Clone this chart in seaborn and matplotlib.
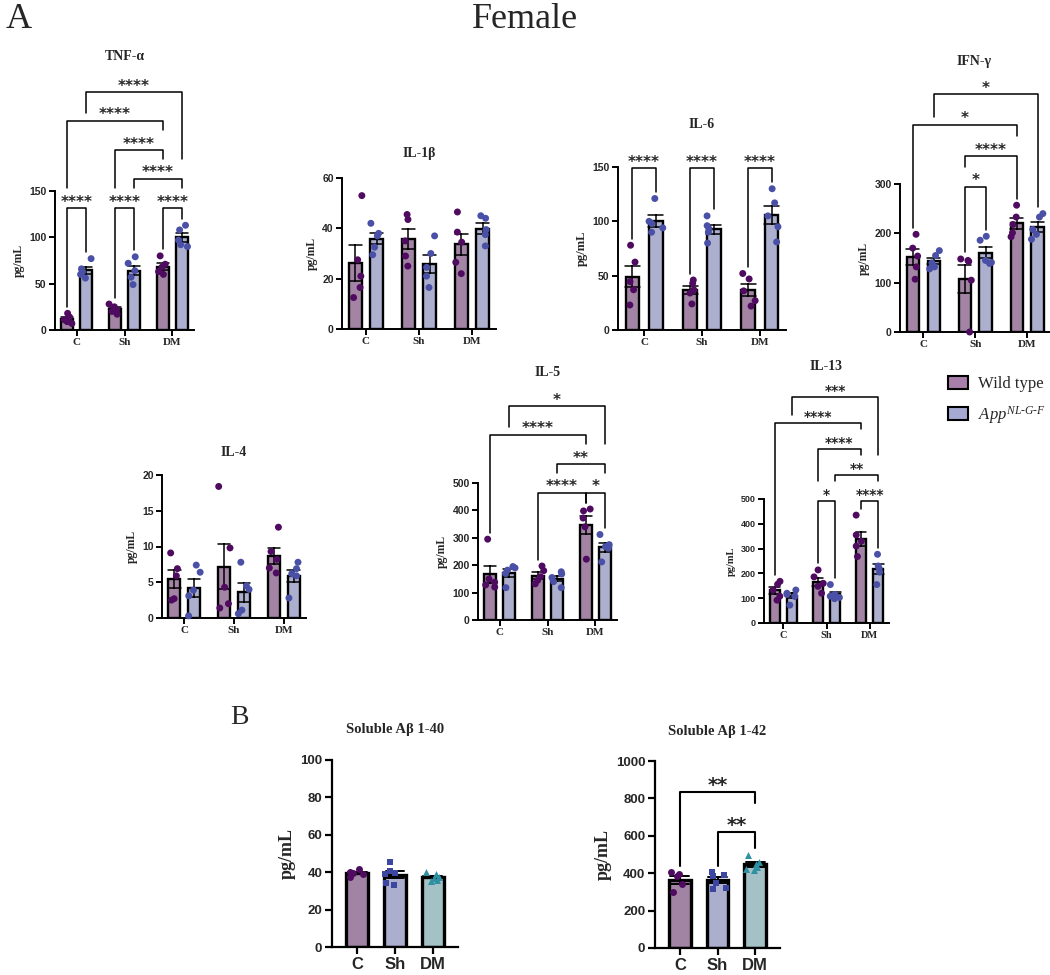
import numpy as np
import pandas as pd
import seaborn as sns
import matplotlib.pyplot as plt
import matplotlib.transforms as mtransforms
from matplotlib.patches import Patch

groups = ['C', 'Sh', 'DM']
genotypes = ['WT', 'App']

# cytokines, pg/mL, five mice per bar (C, Sh, DM)
tnf_wt = [[18, 14, 11, 9, 7], [28, 25, 22, 20, 17], [80, 71, 68, 63, 60]]
tnf_app = [[77, 66, 63, 60, 56], [79, 72, 64, 57, 49], [113, 108, 97, 92, 90]]
il1b_wt = [[53, 27.5, 21, 16.5, 12.5], [45.5, 43.5, 35, 29, 25], [46.5, 38.5, 34.5, 26.5, 22]]
il1b_app = [[42, 38, 37, 32.5, 29.5], [37, 30, 24.5, 21, 16.5], [45, 44, 39.5, 37.5, 33]]
il6_wt = [[78, 62.5, 44.5, 37, 23], [46, 43, 37, 34, 24], [52, 47, 36, 27, 22]]
il6_app = [[121, 100, 98, 94, 90], [105, 96, 93, 90, 80], [130, 117, 105, 95, 81]]
ifng_wt = [[198, 170, 154, 132, 107], [148, 145, 143, 105, 0], [257, 233, 218, 201, 193]]
ifng_app = [[165, 155, 140, 132, 128], [194, 186, 145, 141, 139], [240, 233, 208, 198, 188]]
il4_wt = [[9.1, 6.9, 5.9, 2.7, 2.5], [18.4, 9.8, 4.3, 2.0, 1.4], [12.7, 9.3, 8.2, 7.0, 6.3]]
il4_app = [[7.4, 6.4, 3.9, 3.1, 0.3], [7.8, 4.5, 4.0, 1.1, 0.6], [7.8, 6.9, 6.2, 5.9, 2.8]]
il5_wt = [[295, 150, 138, 128, 120], [197, 180, 158, 145, 132], [405, 398, 372, 340, 222]]
il5_app = [[195, 190, 182, 170, 118], [176, 168, 155, 140, 118], [312, 275, 268, 262, 212]]
il13_wt = [[168, 156, 133, 108, 92], [214, 186, 160, 148, 120], [435, 355, 330, 310, 268]]
il13_app = [[133, 120, 115, 107, 72], [155, 115, 108, 103, 98], [277, 230, 220, 205, 155]]

# soluble amyloid-beta, pg/mL
ab40 = [[41.7, 40.0, 39.6, 39.3, 37.4], [45.5, 40.6, 39.6, 38.8, 34.4, 33.2], [40, 39, 37.5, 37, 36, 35.5]]
ab42 = [[404, 396, 385, 340, 298], [405, 392, 385, 350, 322, 316], [500, 458, 450, 435, 425, 415]]

# comparisons: (bar a, bar b, label, row); bars 0..5 = C-WT, C-App, Sh-WT, Sh-App, DM-WT, DM-App
tnf_sig = [(0, 1, '****', 0), (2, 3, '****', 0), (4, 5, '****', 0), (3, 5, '****', 1),
           (2, 4, '****', 2), (0, 4, '****', 3), (1, 5, '****', 4)]
il6_sig = [(0, 1, '****', 0), (2, 3, '****', 0), (4, 5, '****', 0)]
ifng_sig = [(2, 3, '*', 0), (2, 4, '****', 1), (0, 4, '*', 2), (1, 5, '*', 3)]
il5_sig = [(2, 4, '****', 0), (4, 5, '*', 0), (3, 5, '**', 1), (0, 4, '****', 2), (1, 5, '*', 3)]
il13_sig = [(2, 3, '*', 0), (4, 5, '****', 0), (3, 5, '**', 1), (2, 4, '****', 2),
            (0, 4, '****', 3), (1, 5, '***', 4)]
ab42_sig = [(1, 2, '**', 0), (0, 2, '**', 1)]

W, H = 1050, 975
WT_BAR, APP_BAR = '#a87eab', '#a6aad3'
WT_DOT, APP_DOT = '#4e0b5f', '#4a50a6'
AB_BAR = ['#a57fa9', '#a5a9d1', '#9ec6cc']
AB_DOT = ['#4e0b5f', '#3c46a0', '#2f8fa3']
AB_MARK = ['o', 's', '^']
SERIF = 'Liberation Serif'
SANS = 'Liberation Sans'

sns.set_style('ticks')
plt.rcParams['font.family'] = [SERIF, 'DejaVu Sans']
plt.rcParams['mathtext.fontset'] = 'custom'
plt.rcParams['mathtext.rm'] = SERIF
plt.rcParams['mathtext.it'] = SERIF + ':italic'
np.random.seed(3)

fig = plt.figure(figsize=(W / 100, H / 100), dpi=100)


def px_axes(box):
    l, t, r, b = box
    return fig.add_axes([l / W, 1 - b / H, (r - l) / W, (b - t) / H])


def style(ax, yticks, tick_fs, x_fs, ylab_fs, xfont, lw=1.4):
    ax.set_ylim(0, yticks[-1])
    ax.set_yticks(yticks)
    ax.set_xlabel('')
    ax.set_ylabel('pg/mL', fontfamily=SERIF, fontweight='bold', fontsize=ylab_fs, labelpad=3)
    sns.despine(ax=ax)
    for s in ('left', 'bottom'):
        ax.spines[s].set_linewidth(lw)
        ax.spines[s].set_color('black')
    ax.tick_params(direction='out', length=4, width=lw, color='black', pad=2)
    for t in ax.get_yticklabels():
        t.set_fontfamily(SANS)
        t.set_fontweight('bold')
        t.set_fontsize(tick_fs)
    for t in ax.get_xticklabels():
        t.set_fontfamily(xfont)
        t.set_fontweight('bold')
        t.set_fontsize(x_fs)


def brackets(ax, box, xs, tops, sig, row0, step, fs, lw, txt_off, lab_h, near):
    # everything here is in pixels above the axes bottom
    l, t, r, b = box
    hpx = b - t
    x0, x1 = ax.get_xlim()
    upx = (r - l) / (x1 - x0)
    trans = mtransforms.blended_transform_factory(ax.transData, ax.transAxes)
    drawn = []
    for a, c, label, row in sorted(sig, key=lambda s: s[3]):
        y = b - row0 + row * step
        mid = (xs[a] + xs[c]) / 2
        half = (len(label) * 3.8 + 3) / upx
        legs = []
        for k in (a, c):
            floor = tops[k] + 3
            for da, dc, dy, dmid, dhalf, drow in drawn:
                if drow >= row:
                    continue
                if xs[da] - 1e-6 <= xs[k] <= xs[dc] + 1e-6:
                    if k in (da, dc) or abs(xs[k] - dmid) <= dhalf:
                        floor = max(floor, dy + lab_h)
                    else:
                        floor = max(floor, dy + near)
            legs.append(min(floor, y))
        ax.plot([xs[a], xs[a], xs[c], xs[c]],
                [legs[0] / hpx, y / hpx, y / hpx, legs[1] / hpx],
                transform=trans, color='black', lw=lw, clip_on=False)
        ax.text(mid, (y + txt_off) / hpx, label, transform=trans, ha='center', va='baseline',
                fontsize=fs, fontweight='bold', family='DejaVu Sans', clip_on=False)
        drawn.append((a, c, y, mid, half, row))


def cyto_panel(box, title, title_y, wt, app, yticks, sig=(), row0=0, step=29,
               tick_fs=7.5, x_fs=8, ylab_fs=8.5, title_fs=10, star_fs=11, xlim=(-0.45, 2.45)):
    ax = px_axes(box)
    rows = []
    for g, a_vals, b_vals in zip(groups, wt, app):
        rows += [(g, 'WT', v) for v in a_vals]
        rows += [(g, 'App', v) for v in b_vals]
    df = pd.DataFrame(rows, columns=['group', 'genotype', 'value'])
    sns.barplot(data=df, x='group', y='value', hue='genotype', order=groups, hue_order=genotypes,
                palette=[WT_BAR, APP_BAR], errorbar='se', capsize=0.5, width=0.8, gap=0.4,
                edgecolor='black', linewidth=1.7, err_kws={'color': 'black', 'linewidth': 1.1},
                legend=False, ax=ax)
    sns.stripplot(data=df, x='group', y='value', hue='genotype', order=groups, hue_order=genotypes,
                  palette=[WT_DOT, APP_DOT], dodge=True, jitter=0.26, size=5, legend=False,
                  ax=ax, zorder=4, clip_on=False)
    ax.set_xlim(*xlim)
    style(ax, yticks, tick_fs, x_fs, ylab_fs, SERIF)
    l, t, r, b = box
    fig.text((l + r) / 2 / W, 1 - title_y / H, title, ha='center', va='center',
             fontsize=title_fs, fontweight='bold', family=SERIF)
    if sig:
        hpx = b - t
        ymax = yticks[-1]
        xs, tops = [], []
        for g in range(3):
            for h, series in enumerate((wt, app)):
                v = np.array(series[g], float)
                xs.append(g + (h - 0.5) * 0.4)
                hi = max(v.max(), v.mean() + v.std(ddof=1) / np.sqrt(len(v)))
                tops.append(hi / ymax * hpx + 3.5)
        brackets(ax, box, xs, tops, sig, row0, step, star_fs, 1.1, 1.5, 20, 8)
    return ax


def ab_panel(box, title, title_y, values, yticks, sig=(), row0=0, step=40):
    ax = px_axes(box)
    rows = [(g, v) for g, vals in zip(groups, values) for v in vals]
    df = pd.DataFrame(rows, columns=['group', 'value'])
    sns.barplot(data=df, x='group', y='value', hue='group', order=groups, hue_order=groups,
                palette=AB_BAR, errorbar='se', capsize=0.5, width=0.58, edgecolor='black',
                linewidth=2.4, err_kws={'color': 'black', 'linewidth': 1.4}, legend=False, ax=ax)
    for g, c, m in zip(groups, AB_DOT, AB_MARK):
        sns.stripplot(data=df[df['group'] == g], x='group', y='value', order=groups, color=c,
                      marker=m, jitter=0.26, size=5, ax=ax, zorder=4)
    ax.set_xlim(-0.66, 2.66)
    style(ax, yticks, 9.5, 12, 13, SANS, lw=1.6)
    ax.tick_params(length=5)
    l, t, r, b = box
    fig.text((l + r) / 2 / W, 1 - title_y / H, title, ha='center', va='center',
             fontsize=10.5, fontweight='bold', family=SERIF)
    if sig:
        hpx = b - t
        ymax = yticks[-1]
        xs, tops = [], []
        for g in range(3):
            v = np.array(values[g], float)
            xs.append(g)
            hi = max(v.max(), v.mean() + v.std(ddof=1) / np.sqrt(len(v)))
            tops.append(hi / ymax * hpx + 3.5)
        brackets(ax, box, xs, tops, sig, row0, step, 14, 1.5, 1.5, 29, 10)
    return ax


# panel A
cyto_panel((55, 191, 194, 330), 'TNF-α', 57, tnf_wt, tnf_app, [0, 50, 100, 150],
           tnf_sig, row0=208, step=29)
cyto_panel((342, 178, 496, 329), 'IL-1β', 153, il1b_wt, il1b_app, [0, 20, 40, 60])
cyto_panel((618, 167, 786, 330), 'IL-6', 125, il6_wt, il6_app, [0, 50, 100, 150],
           il6_sig, row0=168, step=29, ylab_fs=9)
cyto_panel((900, 184, 1049, 332), 'IFN-γ', 62, ifng_wt, ifng_app, [0, 100, 200, 300],
           ifng_sig, row0=187, step=31, xlim=(-0.45, 2.42))
cyto_panel((162, 475, 306, 618), 'IL-4', 452, il4_wt, il4_app, [0, 5, 10, 15, 20])
cyto_panel((478, 483, 617, 620), 'IL-5', 373, il5_wt, il5_app, [0, 100, 200, 300, 400, 500],
           il5_sig, row0=493, step=29)
cyto_panel((764, 499, 889, 623), 'IL-13', 367, il13_wt, il13_app, [0, 100, 200, 300, 400, 500],
           il13_sig, row0=501, step=26, tick_fs=6.5, x_fs=7.5, ylab_fs=7.5, star_fs=10)

handles = [Patch(facecolor=WT_BAR, edgecolor='black', linewidth=1.5),
           Patch(facecolor=APP_BAR, edgecolor='black', linewidth=1.5)]
fig.legend(handles, ['Wild type', r'$App^{NL\text{-}G\text{-}F}$'], loc='upper left',
           bbox_to_anchor=(948 / W, 1 - 376 / H), frameon=False,
           prop={'family': SERIF, 'size': 12}, handlelength=1.2, handleheight=0.8,
           labelspacing=0.7, handletextpad=0.6, borderpad=0, borderaxespad=0)

# panel B
ab_panel((332, 760, 458, 947), 'Soluble Aβ 1-40', 730, ab40, [0, 20, 40, 60, 80, 100])
ab_panel((655, 761, 780, 948), 'Soluble Aβ 1-42', 732, ab42, [0, 200, 400, 600, 800, 1000],
         ab42_sig, row0=832, step=40)

fig.text(6 / W, 1 - 20 / H, 'A', fontsize=26, family=SERIF, va='center', ha='left')
fig.text(525 / W, 1 - 20 / H, 'Female', fontsize=26, family=SERIF, va='center', ha='center')
fig.text(230 / W, 1 - 718 / H, 'B', fontsize=20, family=SERIF, va='center', ha='left')

fig.savefig('out.png', dpi=100)
